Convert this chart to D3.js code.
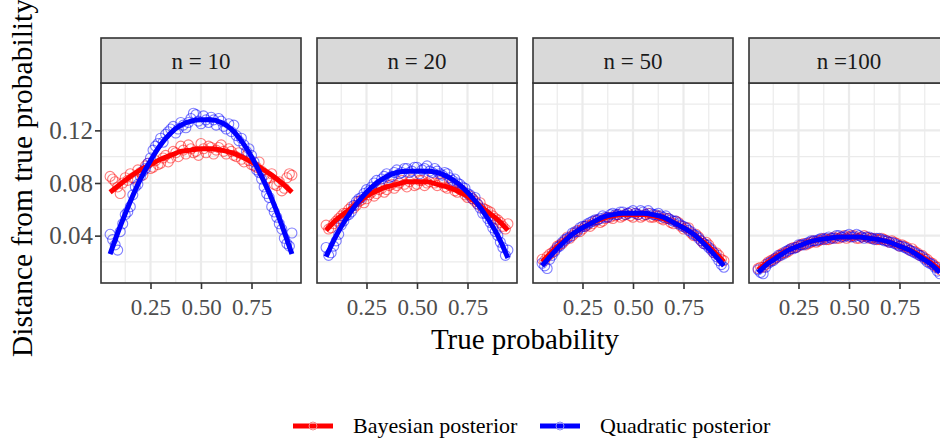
<!DOCTYPE html>
<html>
<head>
<meta charset="utf-8">
<script src="https://cdn.jsdelivr.net/npm/d3@7"></script>
<style>
body { margin: 0; background: #fff; }
svg { display: block; font-family: "Liberation Serif", "Times New Roman", serif; }
</style>
</head>
<body>
<svg></svg>
<script>
//Facets of distance vs true probability

let svgWidth = 940;
let svgHeight = 440;

let facets = ["n = 10", "n = 20", "n = 50", "n =100"];
let xTicks = [0.25, 0.50, 0.75];
let xMinor = [0.125, 0.375, 0.625, 0.875];
let yTicks = [0.04, 0.08, 0.12];
let yMinor = [0.02, 0.06, 0.10, 0.14];
let seriesNames = ["Bayesian posterior", "Quadratic posterior"];

// simulated points, two runs per true probability grid
let pointX = [0.050, 0.075, 0.100, 0.125, 0.150, 0.175, 0.200, 0.225, 0.250, 0.275,
  0.300, 0.325, 0.350, 0.375, 0.400, 0.425, 0.450, 0.475, 0.500, 0.525,
  0.550, 0.575, 0.600, 0.625, 0.650, 0.675, 0.700, 0.725, 0.750, 0.775,
  0.800, 0.825, 0.850, 0.875, 0.900, 0.925, 0.950];
let pointX2 = [0.0625, 0.0875, 0.1125, 0.1375, 0.1625, 0.1875, 0.2125, 0.2375, 0.2625,
  0.2875, 0.3125, 0.3375, 0.3625, 0.3875, 0.4125, 0.4375, 0.4625, 0.4875,
  0.5125, 0.5375, 0.5625, 0.5875, 0.6125, 0.6375, 0.6625, 0.6875, 0.7125,
  0.7375, 0.7625, 0.7875, 0.8125, 0.8375, 0.8625, 0.8875, 0.9125, 0.9375];

let bayesN10 = [0.085, 0.081, 0.072, 0.084, 0.087, 0.083, 0.088, 0.093, 0.091, 0.097,
  0.095, 0.101, 0.099, 0.103, 0.108, 0.102, 0.106, 0.104, 0.110, 0.103,
  0.107, 0.105, 0.109, 0.102, 0.104, 0.100, 0.098, 0.101, 0.094, 0.092,
  0.089, 0.083, 0.087, 0.078, 0.074, 0.084, 0.086];
let bayesN10b = [0.083, 0.077, 0.080, 0.082, 0.084, 0.090, 0.086, 0.095, 0.092, 0.094,
  0.099, 0.096, 0.104, 0.100, 0.105, 0.109, 0.103, 0.101, 0.106, 0.108,
  0.102, 0.107, 0.104, 0.106, 0.101, 0.103, 0.096, 0.097, 0.093, 0.096,
  0.086, 0.084, 0.079, 0.081, 0.076, 0.087];
let quadN10 = [0.041, 0.033, 0.043, 0.056, 0.062, 0.077, 0.085, 0.091, 0.099, 0.108,
  0.114, 0.117, 0.121, 0.118, 0.126, 0.122, 0.129, 0.132, 0.125, 0.128,
  0.130, 0.124, 0.127, 0.121, 0.119, 0.116, 0.114, 0.104, 0.101, 0.090,
  0.083, 0.072, 0.062, 0.054, 0.045, 0.034, 0.042];
let quadN10b = [0.037, 0.029, 0.049, 0.058, 0.071, 0.079, 0.089, 0.095, 0.105, 0.110,
  0.111, 0.119, 0.123, 0.121, 0.124, 0.126, 0.133, 0.127, 0.131, 0.126,
  0.128, 0.129, 0.123, 0.125, 0.124, 0.112, 0.109, 0.106, 0.096, 0.088,
  0.077, 0.069, 0.058, 0.049, 0.038, 0.032];

let bayesN20 = [0.048, 0.046, 0.051, 0.055, 0.057, 0.062, 0.063, 0.067, 0.068, 0.073,
  0.072, 0.076, 0.075, 0.079, 0.078, 0.082, 0.077, 0.083, 0.079, 0.082,
  0.080, 0.084, 0.078, 0.080, 0.076, 0.077, 0.073, 0.074, 0.069, 0.068,
  0.064, 0.061, 0.059, 0.055, 0.052, 0.047, 0.049];
let bayesN20b = [0.045, 0.049, 0.053, 0.057, 0.060, 0.061, 0.066, 0.065, 0.071, 0.070,
  0.075, 0.073, 0.078, 0.076, 0.080, 0.079, 0.081, 0.078, 0.082, 0.078,
  0.081, 0.080, 0.081, 0.077, 0.078, 0.074, 0.075, 0.071, 0.070, 0.066,
  0.065, 0.060, 0.058, 0.053, 0.050, 0.045];
let quadN20 = [0.031, 0.027, 0.036, 0.048, 0.055, 0.058, 0.066, 0.069, 0.075, 0.077,
  0.082, 0.083, 0.087, 0.085, 0.090, 0.088, 0.091, 0.089, 0.092, 0.090,
  0.093, 0.088, 0.089, 0.086, 0.087, 0.082, 0.080, 0.077, 0.072, 0.068,
  0.064, 0.057, 0.053, 0.046, 0.040, 0.031, 0.029];
let quadN20b = [0.025, 0.032, 0.041, 0.051, 0.056, 0.063, 0.068, 0.072, 0.074, 0.080,
  0.079, 0.085, 0.084, 0.088, 0.087, 0.091, 0.088, 0.092, 0.087, 0.091,
  0.089, 0.091, 0.087, 0.088, 0.084, 0.083, 0.079, 0.076, 0.071, 0.069,
  0.061, 0.057, 0.050, 0.043, 0.035, 0.025];

let bayesN50 = [0.022, 0.024, 0.027, 0.032, 0.034, 0.039, 0.040, 0.044, 0.045, 0.048,
  0.049, 0.052, 0.051, 0.054, 0.053, 0.056, 0.055, 0.057, 0.054, 0.056,
  0.055, 0.057, 0.054, 0.055, 0.052, 0.053, 0.049, 0.050, 0.045, 0.046,
  0.040, 0.039, 0.034, 0.033, 0.027, 0.025, 0.021];
let bayesN50b = [0.021, 0.026, 0.029, 0.033, 0.036, 0.038, 0.042, 0.043, 0.047, 0.047,
  0.051, 0.050, 0.053, 0.054, 0.055, 0.054, 0.056, 0.055, 0.057, 0.054,
  0.056, 0.054, 0.055, 0.053, 0.053, 0.050, 0.051, 0.047, 0.046, 0.042,
  0.041, 0.036, 0.035, 0.030, 0.027, 0.022];
let quadN50 = [0.019, 0.015, 0.025, 0.031, 0.035, 0.038, 0.042, 0.043, 0.047, 0.049,
  0.051, 0.052, 0.055, 0.054, 0.057, 0.056, 0.058, 0.057, 0.059, 0.056,
  0.058, 0.059, 0.056, 0.057, 0.054, 0.053, 0.051, 0.049, 0.047, 0.044,
  0.041, 0.038, 0.034, 0.031, 0.027, 0.021, 0.016];
let quadN50b = [0.017, 0.022, 0.028, 0.032, 0.037, 0.039, 0.043, 0.046, 0.047, 0.050,
  0.052, 0.053, 0.054, 0.056, 0.056, 0.058, 0.056, 0.058, 0.057, 0.059,
  0.056, 0.057, 0.056, 0.055, 0.055, 0.052, 0.051, 0.048, 0.046, 0.043,
  0.040, 0.036, 0.033, 0.029, 0.024, 0.018];

let bayesN100 = [0.015, 0.016, 0.020, 0.022, 0.024, 0.027, 0.028, 0.031, 0.032, 0.034,
  0.034, 0.036, 0.036, 0.038, 0.037, 0.039, 0.038, 0.040, 0.039, 0.040,
  0.038, 0.040, 0.038, 0.038, 0.037, 0.037, 0.035, 0.035, 0.032, 0.032,
  0.029, 0.028, 0.025, 0.023, 0.020, 0.017, 0.014];
let bayesN100b = [0.016, 0.018, 0.021, 0.023, 0.026, 0.027, 0.030, 0.031, 0.033, 0.033,
  0.035, 0.035, 0.037, 0.037, 0.038, 0.038, 0.039, 0.038, 0.040, 0.038,
  0.039, 0.039, 0.038, 0.037, 0.038, 0.036, 0.036, 0.034, 0.033, 0.031,
  0.030, 0.027, 0.025, 0.022, 0.019, 0.016];
let quadN100 = [0.014, 0.011, 0.019, 0.021, 0.025, 0.026, 0.029, 0.030, 0.033, 0.033,
  0.035, 0.036, 0.037, 0.037, 0.039, 0.038, 0.040, 0.039, 0.041, 0.039,
  0.040, 0.038, 0.039, 0.037, 0.038, 0.036, 0.035, 0.034, 0.032, 0.031,
  0.029, 0.027, 0.025, 0.022, 0.019, 0.016, 0.011];
let quadN100b = [0.012, 0.016, 0.020, 0.023, 0.025, 0.028, 0.030, 0.031, 0.033, 0.034,
  0.036, 0.036, 0.038, 0.038, 0.038, 0.040, 0.039, 0.040, 0.039, 0.041,
  0.039, 0.039, 0.038, 0.038, 0.037, 0.036, 0.035, 0.033, 0.032, 0.030,
  0.028, 0.026, 0.024, 0.020, 0.018, 0.013];

// smooth fits
let fitX = [0.05, 0.10, 0.15, 0.20, 0.25, 0.30, 0.35, 0.40, 0.45, 0.50,
  0.55, 0.60, 0.65, 0.70, 0.75, 0.80, 0.85, 0.90, 0.95];

let bayesFitN10 = [0.073, 0.079, 0.085, 0.090, 0.094, 0.098, 0.101, 0.104, 0.105, 0.106,
  0.106, 0.105, 0.103, 0.100, 0.096, 0.091, 0.086, 0.080, 0.073];
let quadFitN10 = [0.026, 0.047, 0.066, 0.083, 0.097, 0.109, 0.118, 0.124, 0.127, 0.128,
  0.128, 0.126, 0.121, 0.112, 0.100, 0.085, 0.068, 0.048, 0.026];

let bayesFitN20 = [0.044, 0.052, 0.058, 0.064, 0.070, 0.074, 0.077, 0.079, 0.081, 0.081,
  0.081, 0.079, 0.077, 0.074, 0.070, 0.064, 0.058, 0.052, 0.044];
let quadFitN20 = [0.024, 0.040, 0.053, 0.064, 0.073, 0.080, 0.085, 0.088, 0.089, 0.089,
  0.089, 0.088, 0.085, 0.080, 0.073, 0.064, 0.053, 0.040, 0.023];

let bayesFitN50 = [0.020, 0.028, 0.035, 0.041, 0.046, 0.050, 0.053, 0.055, 0.056, 0.056,
  0.056, 0.055, 0.053, 0.050, 0.046, 0.041, 0.035, 0.028, 0.020];
let quadFitN50 = [0.017, 0.026, 0.034, 0.041, 0.046, 0.050, 0.054, 0.056, 0.057, 0.057,
  0.057, 0.056, 0.054, 0.050, 0.046, 0.041, 0.034, 0.026, 0.017];

let bayesFitN100 = [0.014, 0.020, 0.025, 0.029, 0.032, 0.035, 0.037, 0.038, 0.039, 0.039,
  0.039, 0.038, 0.037, 0.035, 0.032, 0.029, 0.025, 0.020, 0.014];
let quadFitN100 = [0.012, 0.019, 0.024, 0.029, 0.032, 0.035, 0.037, 0.038, 0.039, 0.039,
  0.039, 0.038, 0.037, 0.035, 0.032, 0.029, 0.024, 0.019, 0.012];

let bayesPoints = [[bayesN10, bayesN10b], [bayesN20, bayesN20b], [bayesN50, bayesN50b], [bayesN100, bayesN100b]];
let quadPoints = [[quadN10, quadN10b], [quadN20, quadN20b], [quadN50, quadN50b], [quadN100, quadN100b]];
let bayesFits = [bayesFitN10, bayesFitN20, bayesFitN50, bayesFitN100];
let quadFits = [quadFitN10, quadFitN20, quadFitN50, quadFitN100];

let colors = ["#FF0000", "#0000FF"];

let plotTop = 83;
let plotBottom = 283;
let stripTop = 38;

let svg = d3.select('svg')
  .attr("width", svgWidth)
  .attr("height", svgHeight);

let facetScale = d3.scaleBand()
  .domain(facets)
  .range([101, 949])
  .paddingInner(16 / 216);

let panelW = facetScale.bandwidth();

let xScale = d3.scaleLinear()
  .domain([0.005, 0.995])
  .range([0, panelW]);

let yScale = d3.scaleLinear()
  .domain([0.004, 0.156])
  .range([plotBottom, plotTop]);

let line = d3.line()
  .x(d => xScale(d[0]))
  .y(d => yScale(d[1]))
  .curve(d3.curveMonotoneX);

function toPairs(runs) {
  let a = runs[0].map((v, j) => [pointX[j], v]);
  let b = runs[1].map((v, j) => [pointX2[j], v]);
  return a.concat(b);
}

facets.forEach(function (f, i) {
  let g = svg.append("g")
    .attr("transform", "translate(" + facetScale(f) + ",0)");

  g.append("clipPath").attr("id", "clip" + i)
    .append("rect")
    .attr("x", 0).attr("y", plotTop)
    .attr("width", panelW).attr("height", plotBottom - plotTop);

  g.append("rect")
    .attr("x", 0).attr("y", plotTop)
    .attr("width", panelW).attr("height", plotBottom - plotTop)
    .attr("fill", "#fff");

  // grid
  g.selectAll(".ymin").data(yMinor).enter().append("line")
    .attr("x1", 0).attr("x2", panelW)
    .attr("y1", d => yScale(d)).attr("y2", d => yScale(d))
    .attr("stroke", "#EBEBEB").attr("stroke-width", 1.2);
  g.selectAll(".xmin").data(xMinor).enter().append("line")
    .attr("y1", plotTop).attr("y2", plotBottom)
    .attr("x1", d => xScale(d)).attr("x2", d => xScale(d))
    .attr("stroke", "#EBEBEB").attr("stroke-width", 1.2);
  g.selectAll(".ymaj").data(yTicks).enter().append("line")
    .attr("x1", 0).attr("x2", panelW)
    .attr("y1", d => yScale(d)).attr("y2", d => yScale(d))
    .attr("stroke", "#EBEBEB").attr("stroke-width", 2.2);
  g.selectAll(".xmaj").data(xTicks).enter().append("line")
    .attr("y1", plotTop).attr("y2", plotBottom)
    .attr("x1", d => xScale(d)).attr("x2", d => xScale(d))
    .attr("stroke", "#EBEBEB").attr("stroke-width", 2.2);

  let inner = g.append("g").attr("clip-path", "url(#clip" + i + ")");

  [bayesPoints[i], quadPoints[i]].forEach(function (runs, s) {
    inner.append("g").selectAll("circle")
      .data(toPairs(runs))
      .enter()
      .append("circle")
      .attr("cx", d => xScale(d[0]))
      .attr("cy", d => yScale(d[1]))
      .attr("r", 5)
      .attr("fill", "none")
      .attr("stroke", colors[s])
      .attr("stroke-opacity", 0.5)
      .attr("stroke-width", 1.1);
  });

  [bayesFits[i], quadFits[i]].forEach(function (vals, s) {
    inner.append("path")
      .datum(vals.map((v, j) => [fitX[j], v]))
      .attr("d", line)
      .attr("fill", "none")
      .attr("stroke", colors[s])
      .attr("stroke-width", 5);
  });

  // border
  g.append("rect")
    .attr("x", 0).attr("y", plotTop)
    .attr("width", panelW).attr("height", plotBottom - plotTop)
    .attr("fill", "none").attr("stroke", "#333333").attr("stroke-width", 1.6);

  // strip
  g.append("rect")
    .attr("x", 0).attr("y", stripTop)
    .attr("width", panelW).attr("height", plotTop - stripTop)
    .attr("fill", "#D9D9D9").attr("stroke", "#333333").attr("stroke-width", 1.6);
  g.append("text")
    .attr("x", panelW / 2).attr("y", (stripTop + plotTop) / 2)
    .attr("dy", "0.35em")
    .attr("text-anchor", "middle")
    .attr("font-size", 23)
    .attr("fill", "#1A1A1A")
    .text(f);

  // x axis
  let xAxis = g.append("g")
    .attr("transform", "translate(0," + plotBottom + ")")
    .call(d3.axisBottom(xScale).tickValues(xTicks).tickFormat(d3.format(".2f")).tickSize(6).tickPadding(10));
  xAxis.select(".domain").remove();
  xAxis.selectAll("line").attr("stroke", "#333333").attr("stroke-width", 1.6);
  xAxis.selectAll("text").attr("font-size", 23).attr("fill", "#4D4D4D")
    .attr("font-family", "Liberation Serif, Times New Roman, serif");

  if (i === 0) {
    let yAxis = g.append("g")
      .call(d3.axisLeft(yScale).tickValues(yTicks).tickFormat(d3.format(".2f")).tickSize(6).tickPadding(2));
    yAxis.select(".domain").remove();
    yAxis.selectAll("line").attr("stroke", "#333333").attr("stroke-width", 1.6);
    yAxis.selectAll("text").attr("font-size", 25).attr("fill", "#4D4D4D")
      .attr("font-family", "Liberation Serif, Times New Roman, serif");
  }
});

// axis titles
svg.append("text")
  .attr("x", 525).attr("y", 349)
  .attr("text-anchor", "middle")
  .attr("font-size", 29)
  .text("True probability");

svg.append("text")
  .attr("transform", "translate(32,178) rotate(-90)")
  .attr("text-anchor", "middle")
  .attr("font-size", 29.5)
  .text("Distance from true probability");

// legend
let legendX = [293, 540];
let legend = svg.selectAll(".legend")
  .data(seriesNames)
  .enter()
  .append("g")
  .attr("transform", (d, i) => "translate(" + legendX[i] + ",426)");

legend.append("line")
  .attr("x1", 0).attr("x2", 40)
  .attr("stroke", (d, i) => colors[i])
  .attr("stroke-width", 5);
legend.append("circle")
  .attr("cx", 20).attr("r", 4)
  .attr("fill", "none")
  .attr("stroke", (d, i) => i === 0 ? "#F28A8A" : "#8A8AF2")
  .attr("stroke-width", 1);
legend.append("text")
  .attr("x", 60).attr("dy", "0.32em")
  .attr("font-size", 22)
  .text(d => d);
</script>
</body>
</html>
